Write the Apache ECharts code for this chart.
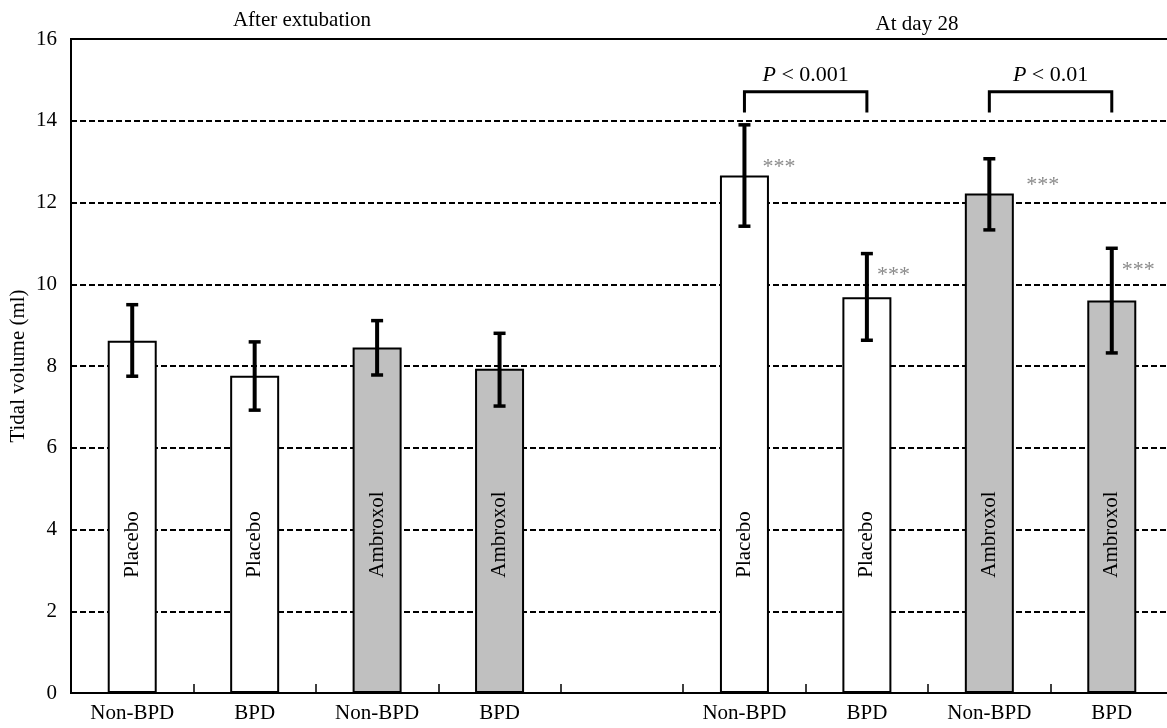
<!DOCTYPE html>
<html>
<head>
<meta charset="utf-8">
<script src="https://cdn.jsdelivr.net/npm/echarts@6/dist/echarts.min.js"></script>
<style>
html,body{margin:0;padding:0;background:#fff;}
#chart{width:1167px;height:728px;}
</style>
</head>
<body>
<div id="chart"></div>
<script>
// ---- data ----
const categories = ['Non-BPD', 'BPD', 'Non-BPD', 'BPD', '', 'Non-BPD', 'BPD', 'Non-BPD', 'BPD'];
const treatment  = ['Placebo', 'Placebo', 'Ambroxol', 'Ambroxol', null, 'Placebo', 'Placebo', 'Ambroxol', 'Ambroxol'];
const means      = [8.62, 7.76, 8.45, 7.93, null, 12.66, 9.68, 12.22, 9.60];
const errLow     = [7.75, 6.92, 7.78, 7.02, null, 11.42, 8.63, 11.33, 8.32];
const errHigh    = [9.50, 8.59, 9.11, 8.80, null, 13.90, 10.75, 13.07, 10.88];
const stars      = [null, null, null, null, null, '***', '***', '***', '***'];
const starLevel  = [null, null, null, null, null, 12.95, 10.33, 12.51, 10.45];
const headings   = ['After extubation', 'At day 28'];
const comparisons = [[5, 6, 'P', ' < 0.001'], [7, 8, 'P', ' < 0.01']];
const yMin = 0, yMax = 16, yStep = 2;
const yAxisName = 'Tidal volume (ml)';

// ---- styling constants ----
const FONT = '"Liberation Serif", "Times New Roman", serif';
const FILL = { Placebo: '#ffffff', Ambroxol: '#c0c0c0' };
const LABEL_LEVEL = 2.82;      // value where rotated treatment labels start
const BRACKET_TOP = 14.71, BRACKET_BOTTOM = 14.2;
const STAR_DX = [0, 0, 0, 0, 0, 18, 10, 37, 10];

const chart = echarts.init(document.getElementById('chart'), null, { renderer: 'canvas' });

const barData = means.map((v, i) => v == null ? null : ({
  value: v,
  itemStyle: { color: FILL[treatment[i]], borderColor: '#000', borderWidth: 2 }
}));

const errData = means.map((v, i) => v == null ? null : [i, errLow[i], errHigh[i]]).filter(d => d);
const labelData = means.map((v, i) => v == null ? null : [i, LABEL_LEVEL, treatment[i]]).filter(d => d);
const starData = stars.map((s, i) => s ? [i, starLevel[i], s] : null).filter(d => d);

const option = {
  animation: false,
  backgroundColor: '#fff',
  grid: { left: 71, right: -6, top: 39, bottom: 35, containLabel: false, outerBoundsMode: 'none',
          show: true, borderColor: '#000', borderWidth: 2, backgroundColor: 'transparent' },
  title: [
    { text: headings[0], left: 297, top: 5, textAlign: 'center',
      textStyle: { fontFamily: FONT, fontSize: 21, fontWeight: 'normal', color: '#000' } },
    { text: headings[1], left: 912, top: 9, textAlign: 'center',
      textStyle: { fontFamily: FONT, fontSize: 21, fontWeight: 'normal', color: '#000' } }
  ],
  xAxis: {
    type: 'category',
    data: categories,
    boundaryGap: true,
    axisLine: { lineStyle: { color: '#000', width: 2 } },
    axisTick: { show: true, inside: true, length: 9, interval: 0, lineStyle: { color: '#000', width: 1.5 } },
    axisLabel: { interval: 0, fontFamily: FONT, fontSize: 21, color: '#000', margin: 10 },
    splitLine: { show: false }
  },
  yAxis: {
    type: 'value',
    min: yMin, max: yMax, interval: yStep,
    name: yAxisName,
    nameLocation: 'middle',
    nameGap: 42,
    nameMoveOverlap: false,
    nameRotate: 90,
    nameTextStyle: { fontFamily: FONT, fontSize: 21, color: '#000' },
    axisLine: { show: true, lineStyle: { color: '#000', width: 2 } },
    axisTick: { show: false },
    axisLabel: { fontFamily: FONT, fontSize: 21, color: '#000', margin: 14 },
    splitLine: { show: true, lineStyle: { color: '#000', width: 1.8, type: [6, 3] } }
  },
  series: [
    {
      type: 'bar',
      data: barData,
      barWidth: 49,
      z: 2
    },
    {
      type: 'custom',
      z: 5,
      data: errData,
      renderItem: function (params, api) {
        const x = api.value(0);
        const lo = api.coord([x, api.value(1)]);
        const hi = api.coord([x, api.value(2)]);
        const cap = 6;
        const st = { stroke: '#000', lineWidth: 4 };
        return {
          type: 'group',
          children: [
            { type: 'line', shape: { x1: lo[0], y1: lo[1], x2: hi[0], y2: hi[1] }, style: st },
            { type: 'line', shape: { x1: lo[0] - cap, y1: lo[1], x2: lo[0] + cap, y2: lo[1] }, style: { stroke: '#000', lineWidth: 3.5 } },
            { type: 'line', shape: { x1: hi[0] - cap, y1: hi[1], x2: hi[0] + cap, y2: hi[1] }, style: { stroke: '#000', lineWidth: 3.5 } }
          ]
        };
      }
    },
    {
      type: 'custom',
      z: 6,
      data: labelData,
      renderItem: function (params, api) {
        const p = api.coord([api.value(0), api.value(1)]);
        return {
          type: 'text',
          x: p[0], y: p[1],
          rotation: Math.PI / 2,
          style: { text: labelData[params.dataIndex][2], fontFamily: FONT, fontSize: 21, fill: '#000', textAlign: 'left', textVerticalAlign: 'middle' }
        };
      }
    },
    {
      type: 'custom',
      z: 6,
      data: starData,
      renderItem: function (params, api) {
        const i = api.value(0);
        const p = api.coord([i, api.value(1)]);
        return {
          type: 'text',
          x: p[0] + STAR_DX[i], y: p[1] + 4,
          style: { text: starData[params.dataIndex][2], fontFamily: FONT, fontSize: 22, fill: '#8a8a8a', textAlign: 'left', textVerticalAlign: 'middle' }
        };
      }
    },
    {
      type: 'custom',
      z: 6,
      data: comparisons.map(c => [c[0], c[1]]),
      renderItem: function (params, api) {
        const c = comparisons[params.dataIndex];
        const a = api.coord([c[0], BRACKET_TOP]);
        const b = api.coord([c[1], BRACKET_TOP]);
        const bot = api.coord([c[0], BRACKET_BOTTOM]);
        return {
          type: 'group',
          children: [
            { type: 'polyline', shape: { points: [[a[0], bot[1]], [a[0], a[1]], [b[0], a[1]], [b[0], bot[1]]] },
              style: { stroke: '#000', lineWidth: 3, fill: null } },
            { type: 'text', x: (a[0] + b[0]) / 2, y: a[1] - 6,
              style: { text: '{i|' + c[2] + '}{n|' + c[3] + '}', textAlign: 'center', textVerticalAlign: 'bottom',
                rich: {
                  i: { fontFamily: FONT, fontSize: 22, fontStyle: 'italic', fill: '#000', color: '#000' },
                  n: { fontFamily: FONT, fontSize: 22, fill: '#000', color: '#000' }
                } } }
          ]
        };
      }
    }
  ]
};

chart.setOption(option);
</script>
</body>
</html>
